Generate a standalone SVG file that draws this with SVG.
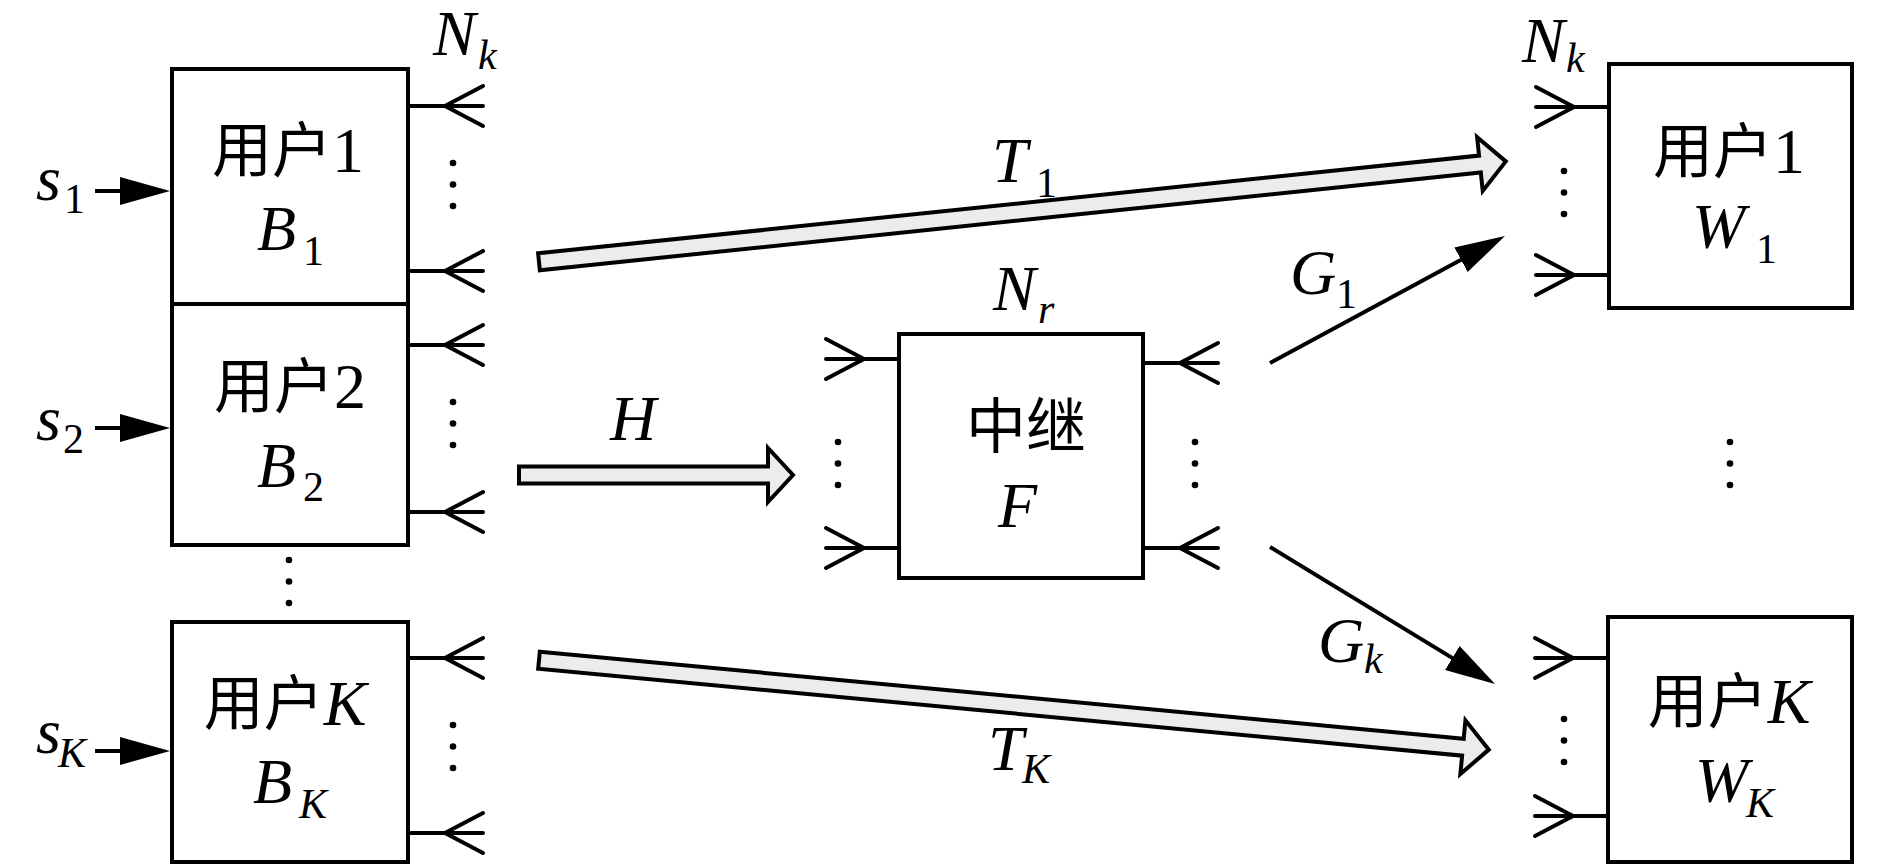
<svg xmlns="http://www.w3.org/2000/svg" xmlns:xlink="http://www.w3.org/1999/xlink" width="1890" height="865" viewBox="0 0 1890 865">
<style>
.box{fill:#fff;stroke:#000;stroke-width:4}
.ln{fill:none;stroke:#000;stroke-width:4;stroke-linecap:round;stroke-linejoin:miter}
.fat{fill:#ececec;stroke:#000;stroke-width:4;stroke-linejoin:miter}
.thin{fill:none;stroke:#000;stroke-width:4}
.t{font-family:"Liberation Serif","Noto Sans CJK SC",serif;font-size:64px;fill:#000}
.i{font-style:italic}
.sub{font-size:42px}
.cjk{font-family:"Noto Sans CJK SC","Liberation Serif",sans-serif;font-size:60px}
.dot{fill:#000}
</style>
<defs>
<path id="stubL" class="ln" d="M0,0 H75 M75,-20 L37,0 L75,20"/>
<path id="stubR" class="ln" d="M0,0 H-73 M-73,-20 L-35,0 L-73,20"/>
<g id="dots3"><circle class="dot" cx="0" cy="0" r="3.3"/><circle class="dot" cx="0" cy="21.5" r="3.3"/><circle class="dot" cx="0" cy="43" r="3.3"/></g>
<marker id="ah" markerUnits="userSpaceOnUse" markerWidth="52" markerHeight="30" viewBox="0 0 52 30" refX="20" refY="15" orient="auto"><path d="M0,1 L50,15 L0,29 Z" fill="#000"/></marker>
</defs>
<rect width="1890" height="865" fill="#fff"/>

<g id="user1-B">
<rect class="box" x="172" y="69" width="236" height="235"/>
<use xlink:href="#stubL" x="408" y="106"/>
<use xlink:href="#stubL" x="408" y="271"/>
<use xlink:href="#dots3" x="453" y="163"/>
<text class="t" x="288" y="172" text-anchor="middle"><tspan class="cjk">用户</tspan>1</text>
<text class="t i" x="257" y="250">B</text><text class="t sub" x="303" y="265">1</text>
<text class="t i" x="433" y="55">N</text><text class="t i sub" x="478" y="69">k</text>
</g>

<g id="user2-B">
<rect class="box" x="172" y="304" width="236" height="241"/>
<use xlink:href="#stubL" x="408" y="345"/>
<use xlink:href="#stubL" x="408" y="512"/>
<use xlink:href="#dots3" x="453" y="402"/>
<text class="t" x="290" y="408" text-anchor="middle"><tspan class="cjk">用户</tspan>2</text>
<text class="t i" x="257" y="487">B</text><text class="t sub" x="303" y="501">2</text>
</g>

<g id="users-gap">
<use xlink:href="#dots3" x="289" y="560"/>
</g>

<g id="userK-B">
<rect class="box" x="172" y="622" width="236" height="240"/>
<use xlink:href="#stubL" x="408" y="658"/>
<use xlink:href="#stubL" x="408" y="833"/>
<use xlink:href="#dots3" x="453" y="725"/>
<text class="t" x="285" y="725" text-anchor="middle"><tspan class="cjk">用户</tspan><tspan class="i">K</tspan></text>
<text class="t i" x="253" y="803">B</text><text class="t i sub" x="299" y="818">K</text>
</g>

<g id="relay">
<rect class="box" x="899" y="334" width="244" height="244"/>
<use xlink:href="#stubR" x="899" y="359"/>
<use xlink:href="#stubR" x="899" y="548"/>
<use xlink:href="#stubL" x="1143" y="363"/>
<use xlink:href="#stubL" x="1143" y="548"/>
<use xlink:href="#dots3" x="838" y="442"/>
<use xlink:href="#dots3" x="1195" y="442"/>
<text class="t cjk" x="1026" y="448" text-anchor="middle">中继</text>
<text class="t i" x="998" y="527">F</text>
<text class="t i" x="993" y="310">N</text><text class="t i sub" x="1038" y="323">r</text>
</g>

<g id="user1-W">
<rect class="box" x="1609" y="64" width="243" height="244"/>
<use xlink:href="#stubR" x="1609" y="107"/>
<use xlink:href="#stubR" x="1609" y="275"/>
<use xlink:href="#dots3" x="1564" y="171"/>
<text class="t" x="1729" y="173" text-anchor="middle"><tspan class="cjk">用户</tspan>1</text>
<text class="t i" x="1692" y="248">W</text><text class="t sub" x="1756" y="263">1</text>
<text class="t i" x="1522" y="62">N</text><text class="t i sub" x="1566" y="72">k</text>
</g>

<g id="users-W-gap">
<use xlink:href="#dots3" x="1730" y="442"/>
</g>

<g id="userK-W">
<rect class="box" x="1608" y="617" width="244" height="245"/>
<use xlink:href="#stubR" x="1608" y="658"/>
<use xlink:href="#stubR" x="1608" y="816"/>
<use xlink:href="#dots3" x="1564" y="719"/>
<text class="t" x="1729" y="723" text-anchor="middle"><tspan class="cjk">用户</tspan><tspan class="i">K</tspan></text>
<text class="t i" x="1695" y="802">W</text><text class="t i sub" x="1746" y="817">K</text>
</g>

<g id="connectors">
<line class="thin" x1="95" y1="191" x2="140" y2="191" marker-end="url(#ah)"/>
<line class="thin" x1="95" y1="428" x2="140" y2="428" marker-end="url(#ah)"/>
<line class="thin" x1="95" y1="751" x2="140" y2="751" marker-end="url(#ah)"/>
<text class="t i" x="36" y="200">s</text><text class="t sub" x="64" y="213">1</text>
<text class="t i" x="36" y="440">s</text><text class="t sub" x="63" y="453">2</text>
<text class="t i" x="36" y="753">s</text><text class="t i sub" x="58" y="767">K</text>

<path class="fat" transform="translate(537,262) rotate(-5.93)" d="M2,-8.5 H948 V-27 L974,0 L948,27 V8.5 H2 Z"/>
<path class="fat" transform="translate(517,475)" d="M2,-8.5 H251 V-27 L276,0 L251,27 V8.5 H2 Z"/>
<path class="fat" transform="translate(537,660) rotate(5.38)" d="M2,-8.5 H930 V-27 L956,0 L930,27 V8.5 H2 Z"/>
<line class="thin" x1="1270" y1="363" x2="1478.6" y2="250.3" marker-end="url(#ah)"/>
<line class="thin" x1="1270" y1="547" x2="1469.4" y2="668.4" marker-end="url(#ah)"/>

<text class="t i" x="992" y="182">T</text><text class="t sub" x="1036" y="197">1</text>
<text class="t i" x="610" y="440">H</text>
<text class="t i" x="988" y="770">T</text><text class="t i sub" x="1022" y="783">K</text>
<text class="t i" x="1290" y="294">G</text><text class="t sub" x="1336" y="308">1</text>
<text class="t i" x="1318" y="662">G</text><text class="t i sub" x="1364" y="673">k</text>
</g>
</svg>
